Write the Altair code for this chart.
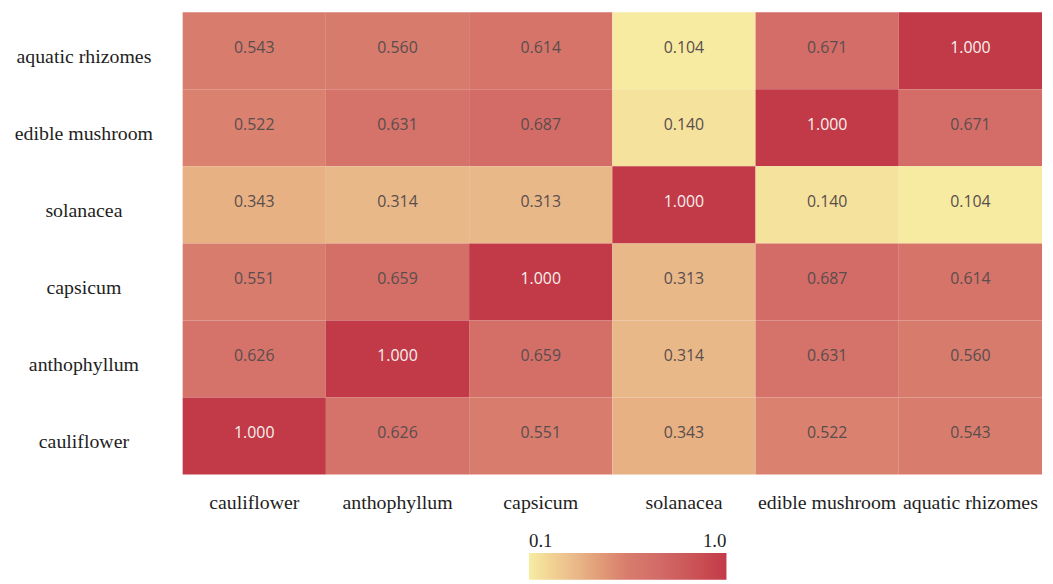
import altair as alt
import pandas as pd

x_cats = ["cauliflower", "anthophyllum", "capsicum", "solanacea", "edible mushroom", "aquatic rhizomes"]
y_cats = ["aquatic rhizomes", "edible mushroom", "solanacea", "capsicum", "anthophyllum", "cauliflower"]

row_aquatic = [0.543, 0.560, 0.614, 0.104, 0.671, 1.000]
row_edible = [0.522, 0.631, 0.687, 0.140, 1.000, 0.671]
row_solanacea = [0.343, 0.314, 0.313, 1.000, 0.140, 0.104]
row_capsicum = [0.551, 0.659, 1.000, 0.313, 0.687, 0.614]
row_antho = [0.626, 1.000, 0.659, 0.314, 0.631, 0.560]
row_cauli = [1.000, 0.626, 0.551, 0.343, 0.522, 0.543]

rows = [row_aquatic, row_edible, row_solanacea, row_capsicum, row_antho, row_cauli]

records = []
for yc, vals in zip(y_cats, rows):
    for xc, v in zip(x_cats, vals):
        records.append({"x": xc, "y": yc, "value": v})
df = pd.DataFrame(records)

color_domain = [0.1, 0.31, 0.54, 0.69, 1.0]
color_range = ["#f6eca2", "#e9b98a", "#d87d6e", "#d36b67", "#c23a48"]
cscale = alt.Scale(domain=color_domain, range=color_range)

base = alt.Chart(df)

rect = base.mark_rect().encode(
    x=alt.X("x:N", sort=x_cats, title=None,
            axis=alt.Axis(labelAngle=0, domain=False, ticks=False, tickSize=0,
                          labelPadding=18, labelFont="Liberation Serif",
                          labelFontSize=20, labelColor="#1e1e1e")),
    y=alt.Y("y:N", sort=y_cats, title=None,
            axis=alt.Axis(domain=False, ticks=False, tickSize=0, labelAlign="center",
                          labelPadding=100, labelOffset=6, labelFont="Liberation Serif",
                          labelFontSize=20, labelColor="#1e1e1e")),
    color=alt.Color("value:Q", scale=cscale,
                    legend=alt.Legend(orient="none", legendX=349, legendY=545,
                                      direction="horizontal", gradientLength=199,
                                      gradientThickness=27, values=[0.1, 1.0],
                                      format=".1f", title=None, padding=0,
                                      labelFont="Liberation Serif", labelFontSize=19,
                                      labelColor="#1e1e1e",
                                      labelOffset={"expr": "-48"})),
)

text = base.mark_text(font="Open Sans", fontSize=16, dy=-3).encode(
    x=alt.X("x:N", sort=x_cats),
    y=alt.Y("y:N", sort=y_cats),
    text=alt.Text("value:Q", format=".3f"),
    color=alt.condition(alt.datum.value >= 0.95, alt.value("#f7f0ee"), alt.value("#5a4d4d")),
)

chart = (rect + text).properties(
    width=866, height=466,
    autosize=alt.AutoSizeParams(type="none"),
    padding={"left": 176, "top": 2, "right": 3, "bottom": 106},
).configure_view(stroke=None)

chart.save("out.html", embed_options={"renderer": "svg", "actions": False})
